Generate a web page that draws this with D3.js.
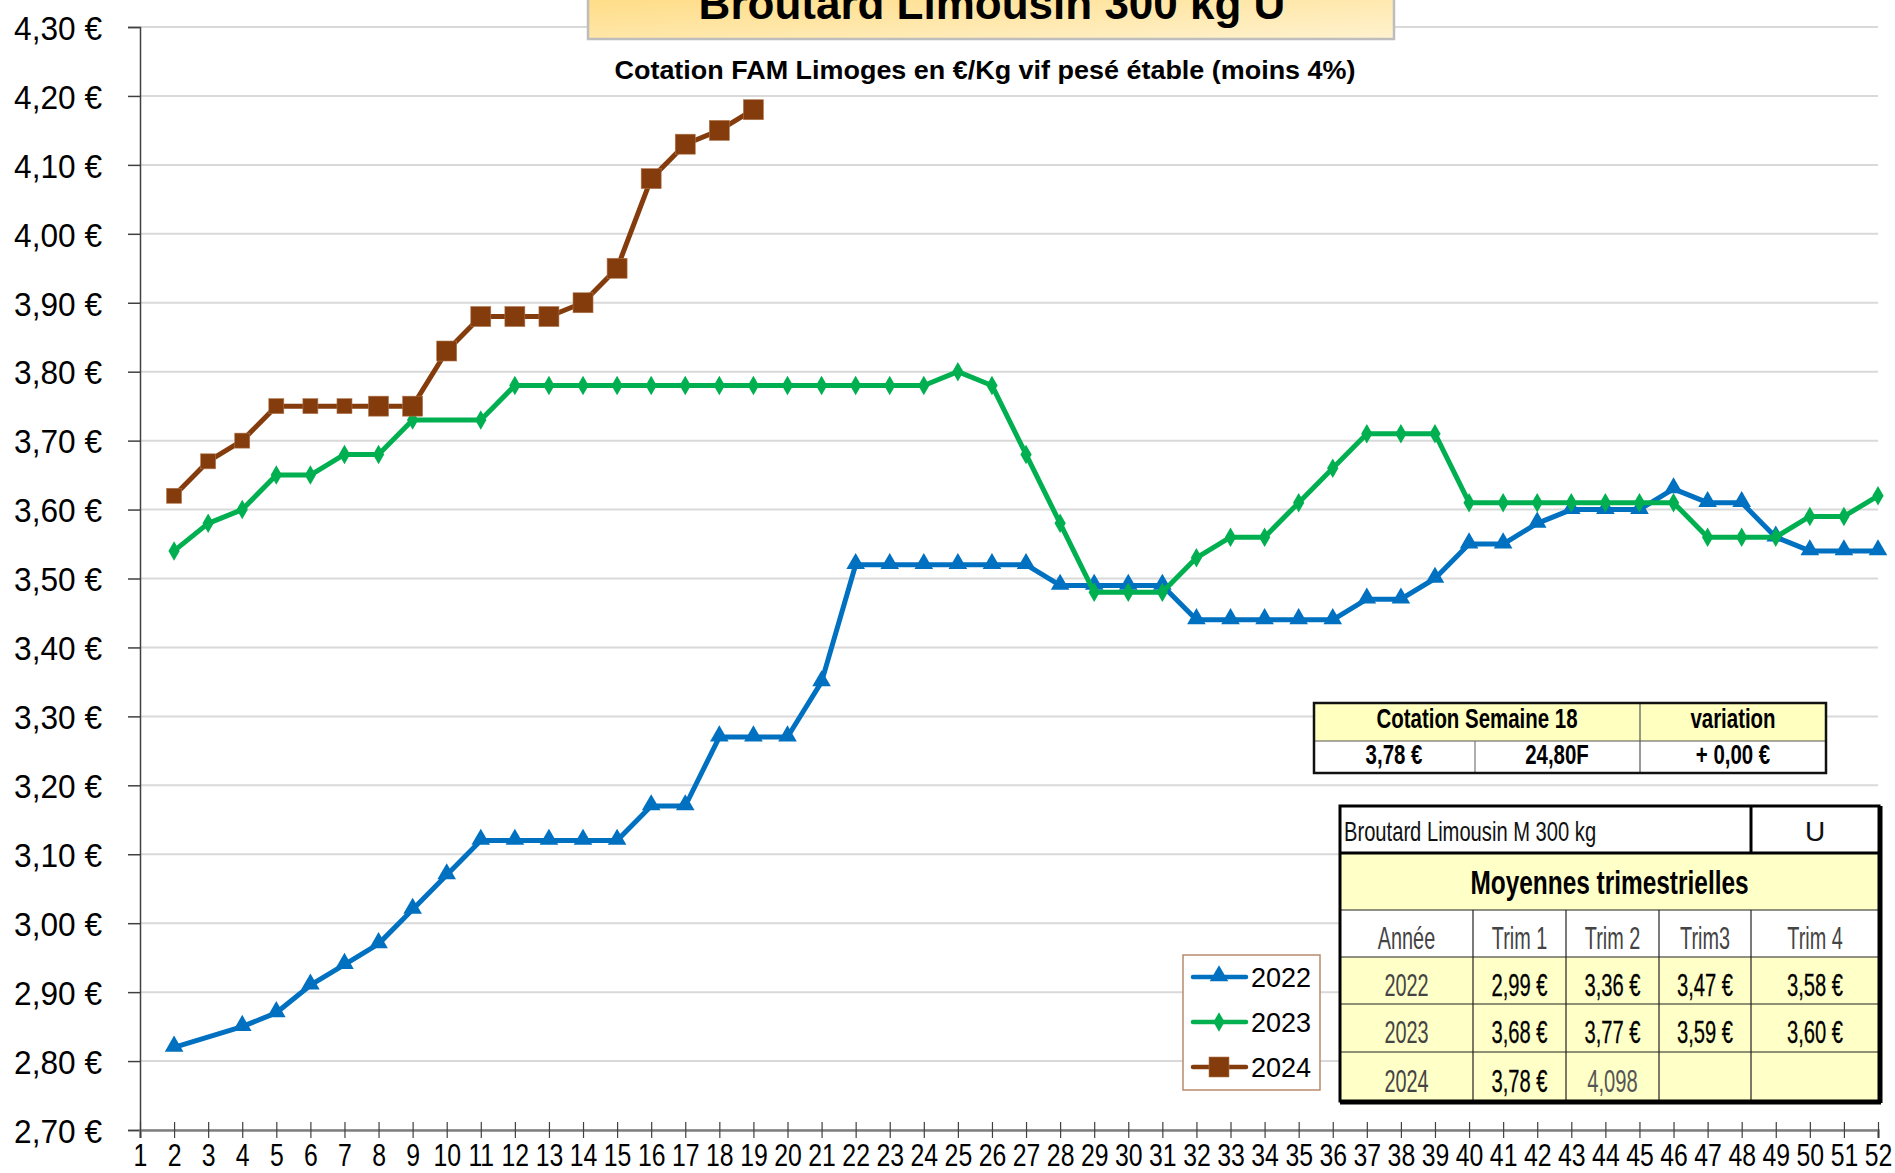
<!DOCTYPE html>
<html>
<head>
<meta charset="utf-8">
<script src="https://cdn.jsdelivr.net/npm/d3@7"></script>
<style>
body{margin:0;background:#fff}
svg{display:block;font-family:"Liberation Sans",Arial,sans-serif}
</style>
</head>
<body>
<script>
// données : cotations hebdomadaires (semaine 1 à 52), null = pas de cotation
var weeks = d3.range(1, 53);
var s2022 = [null,2.82,null,2.85,2.87,2.91,2.94,2.97,3.02,3.07,3.12,3.12,3.12,3.12,3.12,3.17,3.17,3.27,3.27,3.27,3.35,3.52,3.52,3.52,3.52,3.52,3.52,3.49,3.49,3.49,3.49,3.44,3.44,3.44,3.44,3.44,3.47,3.47,3.50,3.55,3.55,3.58,3.60,3.60,3.60,3.63,3.61,3.61,3.56,3.54,3.54,3.54];
var s2023 = [null,3.54,3.58,3.60,3.65,3.65,3.68,3.68,3.73,null,3.73,3.78,3.78,3.78,3.78,3.78,3.78,3.78,3.78,3.78,3.78,3.78,3.78,3.78,3.80,3.78,3.68,3.58,3.48,3.48,3.48,3.53,3.56,3.56,3.61,3.66,3.71,3.71,3.71,3.61,3.61,3.61,3.61,3.61,3.61,3.61,3.56,3.56,3.56,3.59,3.59,3.62];
var s2024 = [null,3.62,3.67,3.70,3.75,3.75,3.75,3.75,3.75,3.83,3.88,3.88,3.88,3.90,3.95,4.08,4.13,4.15,4.18];
var seriesNames = ["2022", "2023", "2024"];
var yTicks = d3.range(2.7, 4.301, 0.1);

// tableau cotation semaine
var cotHeader = ["Cotation Semaine 18", "variation"];
var cotRow = ["3,78 €", "24,80F", "+ 0,00 €"];

// tableau moyennes trimestrielles
var trimTitle = ["Broutard Limousin M 300 kg", "U"];
var trimHeaders = ["Année", "Trim 1", "Trim 2", "Trim3", "Trim 4"];
var trimYears = ["2022", "2023", "2024"];
var trimValues = [
    ["2,99 €", "3,36 €", "3,47 €", "3,58 €"],
    ["3,68 €", "3,77 €", "3,59 €", "3,60 €"],
    ["3,78 €", "4,098", "", ""]
];

const W = 1895, H = 1173;
const colors = ["#0070c0", "#00b050", "#843c0c"];

var svg = d3.select("body").append("svg").attr("width", W).attr("height", H);

// resserrer le texte (police étroite)
function squeeze(sel, k) {
    sel.each(function () {
        var w = this.getComputedTextLength();
        if (w > 0) d3.select(this).attr("textLength", w * k).attr("lengthAdjust", "spacingAndGlyphs");
    });
}

var x = d3.scaleLinear().domain([1, 52]).range([140, 1878]);
var y = d3.scaleLinear().domain([2.7, 4.3]).range([1130, 27]);

// grille
svg.append("g").selectAll("line").data(yTicks).enter().append("line")
    .attr("x1", x(1)).attr("x2", x(52))
    .attr("y1", d => y(d)).attr("y2", d => y(d))
    .attr("stroke", "#d9d9d9").attr("stroke-width", 2);

// axe Y
var fmt = d => d3.format(".2f")(d).replace(".", ",") + " €";
var gY = svg.append("g").attr("transform", "translate(" + x(1) + ",0)")
    .call(d3.axisLeft(y).tickValues(yTicks).tickFormat(fmt).tickSize(12).tickPadding(26));
gY.select(".domain").attr("stroke", "#404040").attr("stroke-width", 1.5);
gY.selectAll(".tick line").attr("stroke", "#404040").attr("stroke-width", 1.5);
gY.selectAll("text").attr("font-size", 34).attr("fill", "#000")
    .attr("font-family", "'Liberation Sans',Arial,sans-serif").attr("dy", "0.36em");
squeeze(gY.selectAll("text"), 0.93);

// axe X
var gX = svg.append("g").attr("transform", "translate(0," + y(2.7) + ")")
    .call(d3.axisBottom(x).tickValues(weeks).tickFormat(d3.format("d")).tickSize(8).tickPadding(6));
gX.select(".domain").attr("stroke", "#7f7f7f").attr("stroke-width", 2.5);
gX.selectAll(".tick line").attr("y1", -8).attr("stroke", "#404040").attr("stroke-width", 1.2);
gX.selectAll("text").attr("font-size", 31).attr("fill", "#000")
    .attr("font-family", "'Liberation Sans',Arial,sans-serif").attr("dy", "0.72em");
squeeze(gX.selectAll("text"), 0.8);

// titre
var defs = svg.append("defs");
var grad = defs.append("linearGradient").attr("id", "tg").attr("x1", "0").attr("y1", "0").attr("x2", "1").attr("y2", "1");
grad.append("stop").attr("offset", "0").attr("stop-color", "#ffdb80");
grad.append("stop").attr("offset", "1").attr("stop-color", "#fff2cf");
svg.append("rect").attr("x", 588).attr("y", -10).attr("width", 806).attr("height", 49)
    .attr("fill", "url(#tg)").attr("stroke", "#bdbdbd").attr("stroke-width", 2.5);
svg.append("text").attr("x", 992).attr("y", 19).attr("text-anchor", "middle")
    .attr("font-size", 44).attr("font-weight", "bold").text("Broutard Limousin 300 kg U");
svg.append("text").attr("x", 985).attr("y", 79).attr("text-anchor", "middle")
    .attr("font-size", 26).attr("font-weight", "bold")
    .attr("textLength", 741).attr("lengthAdjust", "spacingAndGlyphs")
    .text("Cotation FAM Limoges  en €/Kg vif pesé étable (moins 4%)");

// marqueurs
var symTri = d3.symbol().type(d3.symbolTriangle).size(150);
var symDia = d3.symbol().type(d3.symbolDiamond).size(110);
function marker(g, i, cx, cy, big) {
    if (i === 0) {
        g.append("path").attr("d", symTri()).attr("transform", "translate(" + cx + "," + (cy - 1) + ")").attr("fill", colors[0]);
    } else if (i === 1) {
        g.append("path").attr("d", symDia()).attr("transform", "translate(" + cx + "," + cy + ")").attr("fill", colors[1]);
    } else {
        var s = big ? 20 : 15;
        g.append("rect").attr("x", cx - s / 2).attr("y", cy - s / 2).attr("width", s).attr("height", s)
            .attr("fill", colors[2]).attr("stroke", "#b07850").attr("stroke-width", 0.6);
    }
}

// séries
var line = d3.line().x(d => x(d.w)).y(d => y(d.v));
[s2022, s2023, s2024].forEach(function (s, i) {
    var pts = s.map((v, k) => ({w: weeks[k], v: v})).filter(d => d.v != null);
    var g = svg.append("g");
    g.append("path").datum(pts).attr("d", line).attr("fill", "none")
        .attr("stroke", colors[i]).attr("stroke-width", 5).attr("stroke-linejoin", "round");
    pts.forEach(d => marker(g, i, x(d.w), y(d.v), d.w >= 8));
});

// légende
var lg = svg.append("g");
lg.append("rect").attr("x", 1183).attr("y", 955).attr("width", 137).attr("height", 135)
    .attr("fill", "#fff").attr("stroke", "#b98a6c").attr("stroke-width", 1.5);
seriesNames.forEach(function (n, i) {
    var cy = 977 + i * 45;
    lg.append("line").attr("x1", 1193).attr("x2", 1246).attr("y1", cy).attr("y2", cy)
        .attr("stroke", colors[i]).attr("stroke-width", 4.5).attr("stroke-linecap", "round");
    marker(lg, i, 1219, cy, true);
    lg.append("text").attr("x", 1251).attr("y", cy + 10).attr("font-size", 27).text(n);
});

// tableau cotation semaine
var t1 = svg.append("g");
t1.append("rect").attr("x", 1314).attr("y", 703).attr("width", 512).attr("height", 38).attr("fill", "#ffffc0");
t1.append("rect").attr("x", 1314).attr("y", 741).attr("width", 512).attr("height", 32).attr("fill", "#fff");
t1.append("line").attr("x1", 1314).attr("x2", 1826).attr("y1", 741).attr("y2", 741).attr("stroke", "#555").attr("stroke-width", 1.2);
t1.append("line").attr("x1", 1640).attr("x2", 1640).attr("y1", 703).attr("y2", 773).attr("stroke", "#555").attr("stroke-width", 1.2);
t1.append("line").attr("x1", 1475).attr("x2", 1475).attr("y1", 741).attr("y2", 773).attr("stroke", "#777").attr("stroke-width", 1.2);
t1.append("rect").attr("x", 1314).attr("y", 703).attr("width", 512).attr("height", 70)
    .attr("fill", "none").attr("stroke", "#111").attr("stroke-width", 2.5);
var t1txt = t1.selectAll("text.h").data(cotHeader).enter().append("text")
    .attr("x", (d, i) => i === 0 ? 1477 : 1733).attr("y", 728)
    .attr("text-anchor", "middle").attr("font-size", 28).attr("font-weight", "bold").text(d => d);
var t1val = t1.selectAll("text.v").data(cotRow).enter().append("text")
    .attr("x", (d, i) => [1394, 1557, 1733][i]).attr("y", 764)
    .attr("text-anchor", "middle").attr("font-size", 28).attr("font-weight", "bold").text(d => d);
squeeze(t1txt, 0.73);
squeeze(t1val, 0.73);

// tableau moyennes trimestrielles
var cols = [1340, 1473, 1566, 1659, 1751, 1879];
var rows = [806, 853, 910, 957, 1004, 1052, 1101];
var t2 = svg.append("g");
t2.append("rect").attr("x", cols[0]).attr("y", rows[0]).attr("width", cols[5] - cols[0]).attr("height", rows[1] - rows[0]).attr("fill", "#fff");
t2.append("rect").attr("x", cols[0]).attr("y", rows[1]).attr("width", cols[5] - cols[0]).attr("height", rows[2] - rows[1]).attr("fill", "#ffffc8");
t2.append("rect").attr("x", cols[0]).attr("y", rows[2]).attr("width", cols[5] - cols[0]).attr("height", rows[3] - rows[2]).attr("fill", "#fff");
t2.append("rect").attr("x", cols[0]).attr("y", rows[3]).attr("width", cols[5] - cols[0]).attr("height", rows[6] - rows[3]).attr("fill", "#ffffc8");
// lignes intérieures
[rows[2], rows[3], rows[4], rows[5]].forEach(r => t2.append("line").attr("x1", cols[0]).attr("x2", cols[5])
    .attr("y1", r).attr("y2", r).attr("stroke", "#222").attr("stroke-width", 1.2));
[1, 2, 3, 4].forEach(c => t2.append("line").attr("x1", cols[c]).attr("x2", cols[c])
    .attr("y1", rows[2]).attr("y2", rows[6]).attr("stroke", "#222").attr("stroke-width", 1.2));
t2.append("line").attr("x1", cols[0]).attr("x2", cols[5]).attr("y1", rows[1]).attr("y2", rows[1]).attr("stroke", "#000").attr("stroke-width", 3);
t2.append("line").attr("x1", cols[4]).attr("x2", cols[4]).attr("y1", rows[0]).attr("y2", rows[1]).attr("stroke", "#000").attr("stroke-width", 3);
t2.append("rect").attr("x", cols[0]).attr("y", rows[0]).attr("width", cols[5] - cols[0]).attr("height", rows[6] - rows[0])
    .attr("fill", "none").attr("stroke", "#000").attr("stroke-width", 3);
t2.append("line").attr("x1", cols[0]).attr("x2", cols[5] + 2).attr("y1", rows[6] + 2).attr("y2", rows[6] + 2).attr("stroke", "#000").attr("stroke-width", 3);
t2.append("line").attr("x1", cols[5] + 2).attr("x2", cols[5] + 2).attr("y1", rows[0]).attr("y2", rows[6] + 2).attr("stroke", "#000").attr("stroke-width", 3);

var tt = t2.append("text").attr("x", 1344).attr("y", 841).attr("font-size", 28).attr("fill", "#111").text(trimTitle[0]);
squeeze(tt, 0.72);
t2.append("text").attr("x", 1815).attr("y", 841).attr("text-anchor", "middle").attr("font-size", 28).attr("fill", "#111").text(trimTitle[1]);
var mt = t2.append("text").attr("x", (cols[0] + cols[5]) / 2).attr("y", 894).attr("text-anchor", "middle")
    .attr("font-size", 33).attr("font-weight", "bold").text("Moyennes trimestrielles");
squeeze(mt, 0.74);
var cx = i => (cols[i] + cols[i + 1]) / 2;
var hd = t2.selectAll("text.hd").data(trimHeaders).enter().append("text")
    .attr("x", (d, i) => cx(i)).attr("y", 949).attr("text-anchor", "middle")
    .attr("font-size", 32).attr("fill", "#444").text(d => d);
squeeze(hd, 0.62);
trimYears.forEach(function (yr, r) {
    var by = (rows[3 + r] + rows[4 + r]) / 2 + 15;
    var ty = t2.append("text").attr("x", cx(0)).attr("y", by).attr("text-anchor", "middle")
        .attr("font-size", 32).attr("fill", "#444").text(yr);
    squeeze(ty, 0.62);
    var tv = t2.selectAll("text.r" + r).data(trimValues[r]).enter().append("text")
        .attr("x", (d, i) => cx(i + 1)).attr("y", by).attr("text-anchor", "middle")
        .attr("font-size", 32)
        .attr("fill", d => d.indexOf("€") >= 0 ? "#000" : "#555")
        .attr("stroke", d => d.indexOf("€") >= 0 ? "#000" : "none").attr("stroke-width", 0.3)
        .text(d => d);
    squeeze(tv, 0.63);
});
</script>
</body>
</html>
